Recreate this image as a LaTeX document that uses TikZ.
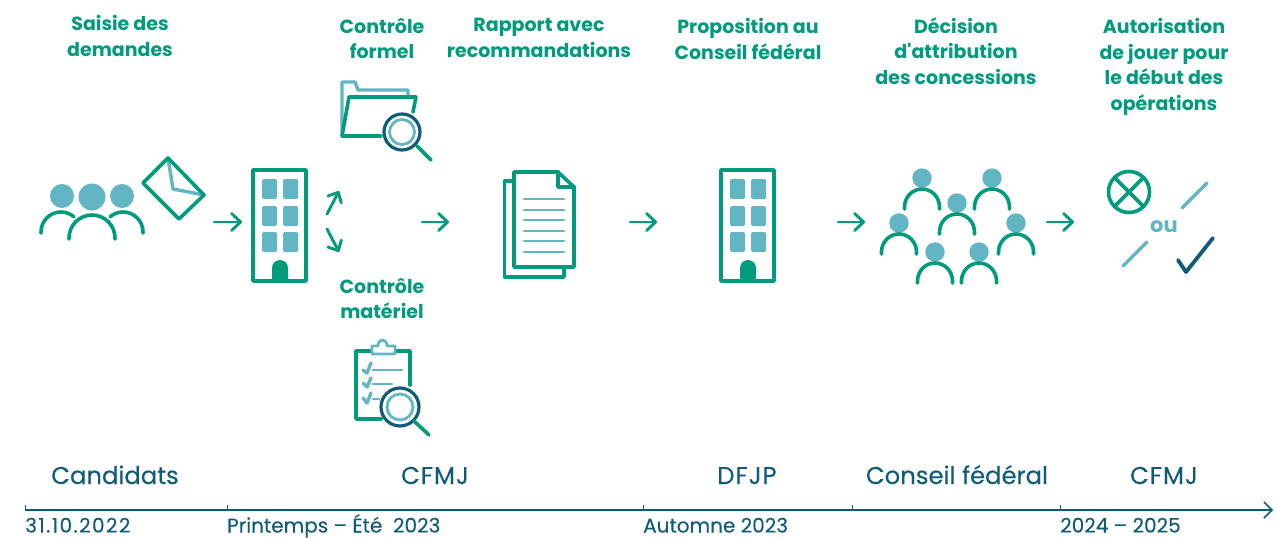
\documentclass[tikz,border=0pt]{standalone}
\usepackage{fontspec}
\setmainfont{Poppins}
\newfontfamily\aposfont{Poppins}
\usetikzlibrary{arrows.meta}
\definecolor{grn}{HTML}{009B7D}
\definecolor{lite}{HTML}{62B6C4}
\definecolor{navy}{HTML}{0F5B78}
\tikzset{
  x=1pt,y=-1pt,
  gl/.style={draw=grn,line width=3.6pt,line cap=round,line join=round},
  ll/.style={draw=lite,line width=3.4pt,line cap=round,line join=round},
  nl/.style={draw=navy,line width=3.2pt,line cap=round,line join=round},
  head/.style={fill=lite},
  procarrow/.style={draw=grn,line width=2.9pt,line cap=round,-{Straight Barb[round,length=9pt,width=17pt]}},
  smallarrow/.style={draw=grn,line width=2.9pt,line cap=round,-{Straight Barb[round,length=8pt,width=15pt]}},
  title/.style={text=grn,align=center,font=\fontsize{19}{25.6}\selectfont\bfseries,anchor=north,inner sep=0pt},
  actor/.style={text=navy,font=\fontsize{24.3}{26}\selectfont\addfontfeature{FakeBold=0.25},anchor=base,inner sep=0pt},
  datelbl/.style={text=navy,font=\fontsize{20}{22}\selectfont\addfontfeature{FakeBold=0.15},anchor=base west,inner sep=0pt},
  axis/.style={draw=navy,line width=1.5pt},
  tick/.style={draw=navy,line width=1pt},
  win/.style={fill=lite,rounded corners=1.5pt},
}
\newcommand{\buildingicon}[1]{%
  \begin{scope}[xshift=#1 pt]
    \draw[gl,fill=white] (253,170) rectangle (306,281);
    \foreach \yy in {179,206,232} {
      \fill[win] (262,\yy) rectangle (277,\yy+20);
      \fill[win] (283,\yy) rectangle (298,\yy+20);
    }
    \fill[grn] (272,282) -- (272,268) arc[start angle=180,end angle=360,radius=8] -- (288,282) -- cycle;
  \end{scope}}
\newcommand{\personicon}[2]{%
  \fill[head] (#1,#2) circle[radius=9.7];
  \draw[gl] (#1-17.5,#2+31) -- (#1-17.5,#2+29) arc[start angle=180,end angle=360,x radius=17.5,y radius=18] -- (#1+17.5,#2+31);}
\begin{document}
\begin{tikzpicture}
\useasboundingbox (0,0) rectangle (1275,538);
% titles
\node[title] (t1) at (120,15) {Saisie des\\demandes};
\node[title] (t2) at (382,18) {Contrôle\\formel};
\node[title] (t3) at (539,18) {Rapport avec\\recommandations};
\node[title] (t4) at (748,18) {Proposition au\\Conseil fédéral};
\node[title] (t5) at (956,17) {Décision\\d{\aposfont\bfseries'}attribution\\des concessions};
\node[title] (t6) at (1164,18) {Autorisation\\de jouer pour\\le début des\\opérations};
\node[title] (t7) at (382,278) {Contrôle\\matériel};
% candidates
\fill[head] (62,196) circle[radius=12];
\fill[head] (92,197) circle[radius=13.5];
\fill[head] (122,196) circle[radius=12];
\draw[gl] (41,233) -- (41,232) arc[start angle=180,end angle=310,radius=20];
\draw[gl] (143,233) -- (143,232) arc[start angle=360,end angle=230,radius=20];
\draw[gl] (69,239) -- (69,238) arc[start angle=180,end angle=360,radius=23] -- (115,239);
% envelope
\draw[ll] (168,158) -- (173,189) -- (204,195);
\draw[gl] (168,158) -- (204,195) -- (179,219) -- (143,183) -- cycle;
% buildings
\buildingicon{0}
\buildingicon{468}
% process arrows
\coordinate (a1s) at (214,222); \coordinate (a1e) at (242,222);
\coordinate (a2s) at (422,222); \coordinate (a2e) at (449,222);
\coordinate (a3s) at (630,222); \coordinate (a3e) at (657,222);
\coordinate (a4s) at (838,222); \coordinate (a4e) at (865,222);
\coordinate (a5s) at (1047,222); \coordinate (a5e) at (1074,222);
\coordinate (u1s) at (327,214); \coordinate (u1e) at (339,191);
\coordinate (d1s) at (327,229); \coordinate (d1e) at (339,252);
\draw[procarrow] (a1s) -- (a1e);
\draw[procarrow] (a2s) -- (a2e);
\draw[procarrow] (a3s) -- (a3e);
\draw[procarrow] (a4s) -- (a4e);
\draw[procarrow] (a5s) -- (a5e);
\draw[smallarrow] (u1s) -- (u1e);
\draw[smallarrow] (d1s) -- (d1e);
% folder
\draw[ll] (342,133) -- (342,82) -- (355,82) -- (358,90) -- (408,90) -- (408,96);
\draw[gl] (381,136) -- (342,136) -- (349,97) -- (416,97) -- (413,112);
\draw[ll,line width=2.8pt] (402,132) circle[radius=12.5];
\draw[nl] (402,132) circle[radius=18];
\draw[gl] (417,146) -- (431,160);
% document
\draw[gl] (514,181) -- (504.5,181) -- (504.5,277) -- (564,277) -- (564,267);
\draw[gl] (514,172) -- (558,172) -- (574,187) -- (574,267) -- (514,267) -- cycle;
\draw[gl] (558,172) -- (558,187) -- (574,187);
\foreach \yy in {199,210,220,231,241,252} { \draw[ll,line width=2.8pt] (524,\yy) -- (564,\yy); }
% clipboard
\draw[gl] (371,351) -- (356,351) -- (356,419) -- (381,419);
\draw[gl] (396,351) -- (410,351) -- (410,385);
\draw[ll,line width=2.8pt] (372,354) -- (395,354) -- (395,346) -- (387,346) .. controls (387,338) and (378,338) .. (378,346) -- (372,346) -- cycle;
\draw[ll] (363,370) -- (367,373) -- (371,363);
\draw[ll] (363,383) -- (367,387) -- (371,378);
\draw[ll] (363,398) -- (367,403) -- (371,393);
\draw[ll,line width=2.8pt] (373,370) -- (402,370);
\draw[ll,line width=2.8pt] (373,384) -- (392,384);
\draw[ll,line width=2.8pt] (373,399) -- (379,399);
\draw[ll,line width=2.8pt] (400,407) circle[radius=13];
\draw[nl] (400,407) circle[radius=19];
\draw[gl] (414,421) -- (429,435);
% council
\personicon{922}{178}
\personicon{992}{178}
\personicon{957}{203}
\personicon{899}{223}
\personicon{1016}{223}
\personicon{935}{252}
\personicon{979}{252}
% outcome
\draw[gl] (1129,192) circle[radius=20.5];
\draw[gl] (1114.5,177.5) -- (1143.5,206.5);
\draw[gl] (1143.5,177.5) -- (1114.5,206.5);
\draw[ll] (1207,183) -- (1182,208);
\draw[ll] (1147,242) -- (1123,266);
\node[text=lite,font=\fontsize{21}{22}\selectfont\bfseries,inner sep=0pt] (ou) at (1164,227) {ou};
\draw[nl,line width=3.8pt] (1178,260) -- (1186,272) -- (1213,238);
% actors
\node[actor] (c1) at (115,484) {Candidats};
\node[actor] (c2) at (435,484) {\addfontfeature{LetterSpace=4}CFMJ};
\node[actor] (c3) at (747,484) {\addfontfeature{LetterSpace=4}DFJP};
\node[actor] (c4) at (957,484) {Conseil fédéral};
\node[actor] (c5) at (1164,484) {\addfontfeature{LetterSpace=4}CFMJ};
% axis
\coordinate (ts) at (25,510);
\coordinate (te) at (1273,510);
\draw[axis,-{Straight Barb[length=8pt,width=16pt]}] (ts) -- (te);
\foreach \xx in {25,227,643,852,1060} { \draw[tick] (\xx,510) -- (\xx,505); }
\node[datelbl] (d1) at (25,532.5) {\addfontfeature{LetterSpace=7}31.10.2022};
\node[datelbl] (d2) at (227,532.5) {Printemps – Été\ \ 2023};
\node[datelbl] (d3) at (643,532.5) {Automne 2023};
\node[datelbl] (d4) at (1060,532.5) {2024 – 2025};
\end{tikzpicture}
\end{document}
